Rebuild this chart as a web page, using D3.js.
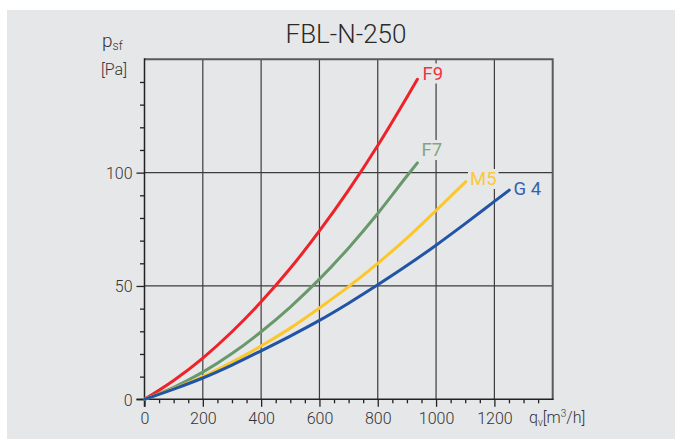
<!DOCTYPE html>
<html>
<head>
<meta charset="utf-8">
<script src="https://cdn.jsdelivr.net/npm/d3@7"></script>
<style>
  html, body { margin: 0; padding: 0; background: #ffffff; }
  svg { display: block; }
  text { font-family: Roboto, "DejaVu Sans", sans-serif; }
</style>
</head>
<body>
<svg id="chart" width="680" height="439"></svg>
<script>
// ---- Data ----
const title = "FBL-N-250";
const seriesNames = ["F9", "F7", "M5", "G4"];
const seriesLabels = ["F9", "F7", "M5", "G 4"];
const seriesColors = ["#ee2229", "#68996b", "#fcc72b", "#2154a4"];
const labelColors = ["#f0343c", "#7ea67f", "#fbc93a", "#3562ac"];

const f9Q = [0, 100, 200, 300, 400, 500, 600, 700, 800, 900, 936];
const f9P = [0, 8.3, 18.2, 29.8, 43.0, 57.8, 74.3, 92.3, 112.0, 133.3, 141.2];
const f7Q = [0, 100, 200, 300, 400, 500, 600, 700, 800, 900, 936];
const f7P = [0, 5.3, 12.0, 20.2, 29.8, 40.7, 53.0, 66.8, 82.0, 98.5, 104.3];
const m5Q = [0, 100, 200, 300, 400, 500, 600, 700, 800, 900, 1000, 1102];
const m5P = [0, 4.7, 10.0, 16.4, 23.5, 31.4, 40.3, 49.7, 60.0, 71.1, 83.3, 96.0];
const g4Q = [0, 100, 200, 300, 400, 500, 600, 700, 800, 900, 1000, 1100, 1200, 1251];
const g4P = [0, 4.5, 9.4, 15.1, 21.4, 27.9, 34.8, 42.4, 50.5, 59.0, 68.0, 77.5, 87.3, 92.3];

const xMajorTicks = [0, 200, 400, 600, 800, 1000, 1200];
const xMinorTicks = d3.range(50, 1400, 50).filter(v => v % 200 !== 0);
const yMajorTicks = [0, 50, 100];
const yMinorTicks = d3.range(10, 150, 10).filter(v => v % 50 !== 0);
const xGrid = [200, 400, 600, 800, 1000, 1200];
const yGrid = [50, 100];

const seriesData = [
  { q: f9Q, p: f9P },
  { q: f7Q, p: f7P },
  { q: m5Q, p: m5P },
  { q: g4Q, p: g4P }
];

// ---- Layout ----
const bg = "#e6e7e9";
const plot = { left: 144.5, right: 552.7, top: 59.3, bottom: 399.3 };

const svg = d3.select("#chart");
svg.append("rect").attr("x", 7).attr("y", 10).attr("width", 668).attr("height", 429).attr("fill", bg);

const x = d3.scaleLinear().domain([0, 1400]).range([plot.left, plot.right]);
const y = d3.scaleLinear().domain([0, 150]).range([plot.bottom, plot.top]);

// Grid lines
const grid = svg.append("g");
grid.selectAll("line.vg").data(xGrid).join("line")
  .attr("x1", d => x(d)).attr("x2", d => x(d))
  .attr("y1", plot.top).attr("y2", plot.bottom)
  .attr("stroke", "#3c3c3c").attr("stroke-width", 1.2);
grid.selectAll("line.hg").data(yGrid).join("line")
  .attr("x1", plot.left).attr("x2", plot.right)
  .attr("y1", d => y(d)).attr("y2", d => y(d))
  .attr("stroke", "#3c3c3c").attr("stroke-width", 1.2);

// Frame (top / right)
svg.append("path")
  .attr("d", `M${plot.left},${plot.top}H${plot.right}V${plot.bottom}`)
  .attr("fill", "none").attr("stroke", "#5a5a5a").attr("stroke-width", 2);

// Axes
const axisColor = "#222";
const fmt = d3.format("d");
const xAxisMajor = d3.axisBottom(x).tickValues(xMajorTicks).tickFormat(fmt).tickSize(7.5).tickSizeOuter(0).tickPadding(6);
const xAxisMinor = d3.axisBottom(x).tickValues(xMinorTicks).tickSize(4).tickSizeOuter(0).tickFormat("");
const yAxisMajor = d3.axisLeft(y).tickValues(yMajorTicks).tickFormat(fmt).tickSize(8).tickSizeOuter(0).tickPadding(4);
const yAxisMinor = d3.axisLeft(y).tickValues(yMinorTicks).tickSize(4.5).tickSizeOuter(0).tickFormat("");

function styleAxis(g) {
  g.select(".domain").remove();
  g.selectAll(".tick line").attr("stroke", axisColor).attr("stroke-width", 1.3);
  g.selectAll(".tick text").attr("fill", "#333").attr("font-size", 16).attr("font-weight", 300)
    .style("font-family", "Roboto, sans-serif");
}

svg.append("g").attr("transform", `translate(0,${plot.bottom})`).call(xAxisMinor).call(styleAxis);
svg.append("g").attr("transform", `translate(0,${plot.bottom})`).call(xAxisMajor).call(styleAxis);
svg.append("g").attr("transform", `translate(${plot.left},0)`).call(yAxisMinor).call(styleAxis);
svg.append("g").attr("transform", `translate(${plot.left},0)`).call(yAxisMajor).call(styleAxis)
  .selectAll(".tick text").attr("dy", "0.36em");

// axis lines
svg.append("line").attr("x1", plot.left).attr("x2", plot.left)
  .attr("y1", plot.top - 1).attr("y2", plot.bottom + 7.5)
  .attr("stroke", axisColor).attr("stroke-width", 1.5);
svg.append("line").attr("x1", plot.left - 8).attr("x2", plot.right + 1)
  .attr("y1", plot.bottom).attr("y2", plot.bottom)
  .attr("stroke", axisColor).attr("stroke-width", 1.5);

// Labels with background patches (drawn before curves)
const labelXY = [
  { x: 422.5, y: 79.5 },
  { x: 421.5, y: 156 },
  { x: 470, y: 185 },
  { x: 513.5, y: 195 }
];
const labelsG = svg.append("g");
seriesLabels.forEach((lab, i) => {
  const lp = labelXY[i];
  const g = labelsG.append("g");
  const t = g.append("text")
    .attr("x", lp.x)
    .attr("y", lp.y)
    .attr("fill", labelColors[i])
    .attr("font-size", 18.5)
    .attr("font-weight", 400)
    .attr("xml:space", "preserve")
    .text(lab);
  const bb = t.node().getBBox();
  g.insert("rect", "text")
    .attr("x", bb.x - 2).attr("y", bb.y + 1).attr("width", bb.width + 4).attr("height", bb.height - 2)
    .attr("fill", bg);
});

// Curves
const line = d3.line().x(d => x(d[0])).y(d => y(d[1])).curve(d3.curveMonotoneX);
const curvesG = svg.append("g");
seriesData.forEach((s, i) => {
  const pts = s.q.map((q, j) => [q, s.p[j]]);
  curvesG.append("path")
    .datum(pts)
    .attr("d", line)
    .attr("fill", "none")
    .attr("stroke", seriesColors[i])
    .attr("stroke-width", 3)
    .attr("stroke-linecap", "round");
});

// Title
svg.append("text").attr("x", 346).attr("y", 43).attr("text-anchor", "middle")
  .attr("font-size", 26).attr("font-weight", 300).attr("fill", "#2a2a2a")
  .text(title);

// Y axis label
const yl = svg.append("text").attr("x", 102).attr("y", 47).attr("fill", "#333").attr("font-size", 19).attr("font-weight", 300);
yl.append("tspan").text("p");
yl.append("tspan").attr("font-size", 12).attr("dy", 3).text("sf");
svg.append("text").attr("x", 101).attr("y", 75).attr("fill", "#333").attr("font-size", 16).attr("font-weight", 300).text("[Pa]");

// X axis label
const xl = svg.append("text").attr("x", 529).attr("y", 423).attr("fill", "#333").attr("font-size", 16).attr("font-weight", 300);
xl.append("tspan").text("q");
xl.append("tspan").attr("font-size", 10).attr("dy", 3).text("v");
xl.append("tspan").attr("dy", -3).text("[m");
xl.append("tspan").attr("font-size", 10).attr("dy", -6).text("3");
xl.append("tspan").attr("dy", 6).text("/h]");
</script>
</body>
</html>
